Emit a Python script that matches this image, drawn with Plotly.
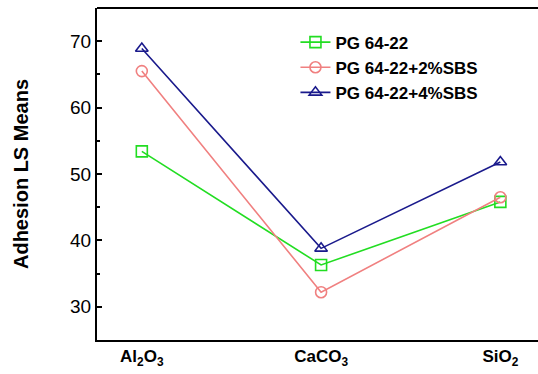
import plotly.graph_objects as go

categories = ["Al<sub>2</sub>O<sub>3</sub>", "CaCO<sub>3</sub>", "SiO<sub>2</sub>"]
series_names = ["PG 64-22", "PG 64-22+2%SBS", "PG 64-22+4%SBS"]
pg = [53.4, 36.3, 45.8]
sbs2 = [65.5, 32.2, 46.5]
sbs4 = [68.9, 38.8, 51.8]
y_ticks = [30, 40, 50, 60, 70]

colors = ["#22dd22", "#f08080", "#1a1a8c"]
symbols = ["square-open", "circle-open", "triangle-up-open"]

x_idx = list(range(len(categories)))
fig = go.Figure()
for name, vals, c, s in zip(series_names, [pg, sbs2, sbs4], colors, symbols):
    fig.add_trace(go.Scatter(
        x=x_idx, y=vals, name=name, mode="lines+markers",
        line=dict(color=c, width=1.6),
        marker=dict(symbol=s, size=11, color=c, line=dict(color=c, width=1.6)),
    ))

FONT = "Liberation Sans, Arial, sans-serif"
fig.update_layout(
    width=538, height=374,
    margin=dict(l=97, r=0, t=8, b=34),
    paper_bgcolor="white", plot_bgcolor="white",
    font=dict(family=FONT, color="black"),
    showlegend=True,
    legend=dict(
        x=0.45, y=0.95, xanchor="left", yanchor="top",
        font=dict(size=17, family=FONT, weight="bold"),
        bgcolor="rgba(0,0,0,0)", tracegroupgap=0, itemwidth=30,
    ),
    shapes=[dict(type="line", xref="paper", yref="paper", x0=0, x1=1, y0=1, y1=1,
                 line=dict(color="black", width=2))],
)
fig.update_xaxes(
    range=[-0.25, 2.21], tickvals=x_idx, ticktext=categories,
    showgrid=False, zeroline=False, showline=True, linecolor="black", linewidth=2,
    mirror=False, ticks="",
    tickfont=dict(size=17, weight="bold"),
)
fig.update_yaxes(
    range=[25, 75], tickvals=y_ticks,
    showgrid=False, zeroline=False, showline=True, linecolor="black", linewidth=2,
    ticks="inside", ticklen=5, tickwidth=2, tickcolor="black",
    minor=dict(ticks="inside", ticklen=3, tickwidth=2, tickcolor="black", dtick=5, tick0=25, showgrid=False),
    tickfont=dict(size=19),
    title=dict(text="Adhesion LS Means", font=dict(size=20, weight="bold"), standoff=36),
)
fig.write_html("out.html")
